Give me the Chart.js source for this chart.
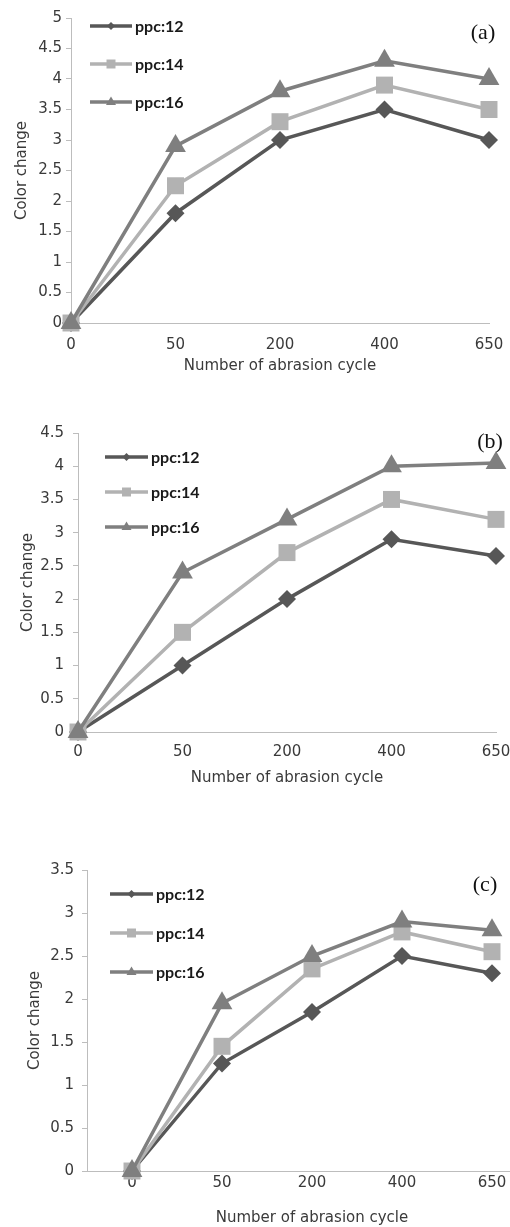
<!DOCTYPE html>
<html>
<head>
<meta charset="utf-8">
<script src="https://cdn.jsdelivr.net/npm/chart.js@4.4.1/dist/chart.umd.min.js"></script>
<style>
  html, body { margin: 0; background: #fff; overflow: hidden; }
  #page { position: relative; width: 510px; height: 1227px; overflow: hidden; }
  .panel { position: absolute; left: 0; width: 510px; }
</style>
</head>
<body>
<div id="page">
<div class="panel" style="top:0;height:380px"><canvas id="chartA"></canvas></div>
<div class="panel" style="top:390px;height:400px"><canvas id="chartB"></canvas></div>
<!-- panel (c) is cut off on the right in the source figure, so its canvas runs past the page edge -->
<div class="panel" style="top:820px;height:407px;width:549px"><canvas id="chartC"></canvas></div>
</div>
<script>
// abrasion cycles on the x axis
const cycles = ['0', '50', '200', '400', '650'];
const seriesNames = ['ppc:12', 'ppc:14', 'ppc:16'];

// (a)
const a_ppc12 = [0, 1.8, 3.0, 3.5, 3.0];
const a_ppc14 = [0, 2.25, 3.3, 3.9, 3.5];
const a_ppc16 = [0, 2.9, 3.8, 4.3, 4.0];
// (b)
const b_ppc12 = [0, 1.0, 2.0, 2.9, 2.65];
const b_ppc14 = [0, 1.5, 2.7, 3.5, 3.2];
const b_ppc16 = [0, 2.4, 3.2, 4.0, 4.05];
// (c)
const c_ppc12 = [0, 1.25, 1.85, 2.5, 2.3];
const c_ppc14 = [0, 1.45, 2.35, 2.78, 2.55];
const c_ppc16 = [0, 1.95, 2.5, 2.9, 2.8];

const yMaxA = 5, yMaxB = 4.5, yMaxC = 3.5;

const colors = ['#575757', '#b2b2b2', '#7f7f7f'];
const styles = ['rectRot', 'rect', 'triangle'];
const radii = [9, 12, 12];

const sans = 'DejaVu Sans';

// legend drawn inside the plot: short line with a small marker, then bold label
const lineLegend = {
    id: 'lineLegend',
    afterDraw(chart, args, opts) {
        const ctx = chart.ctx;
        ctx.save();
        chart.data.datasets.forEach((ds, i) => {
            const y = opts.y + i * opts.dy;
            ctx.strokeStyle = ds.borderColor;
            ctx.lineWidth = 3.5;
            ctx.beginPath();
            ctx.moveTo(opts.x, y);
            ctx.lineTo(opts.x + opts.len, y);
            ctx.stroke();
            const cx = opts.x + opts.len / 2;
            ctx.fillStyle = ds.borderColor;
            ctx.beginPath();
            if (ds.pointStyle === 'rectRot') {
                ctx.moveTo(cx - 4, y); ctx.lineTo(cx, y - 4); ctx.lineTo(cx + 4, y); ctx.lineTo(cx, y + 4);
            } else if (ds.pointStyle === 'rect') {
                ctx.rect(cx - 4.5, y - 4.5, 9, 9);
            } else {
                ctx.moveTo(cx, y - 5.5); ctx.lineTo(cx + 5, y + 3); ctx.lineTo(cx - 5, y + 3);
            }
            ctx.closePath();
            ctx.fill();
            ctx.fillStyle = '#1a1a1a';
            ctx.font = 'bold 16px Lato';
            ctx.textBaseline = 'middle';
            ctx.textAlign = 'left';
            ctx.fillText(ds.label, opts.x + opts.len + 3, y + 1);
        });
        ctx.font = '22px "Liberation Serif"';
        ctx.fillStyle = '#111';
        ctx.textAlign = 'center';
        ctx.textBaseline = 'middle';
        ctx.fillText(opts.tag, opts.tagX, opts.tagY);
        ctx.restore();
    }
};

function makeDatasets(values) {
    return values.map((v, i) => ({
        label: seriesNames[i],
        data: v,
        borderColor: colors[i],
        backgroundColor: colors[i],
        pointBackgroundColor: colors[i],
        pointBorderColor: colors[i],
        pointStyle: styles[i],
        pointRadius: radii[i],
        pointHoverRadius: radii[i],
        pointBorderWidth: 0,
        borderWidth: 3.5,
        tension: 0,
        clip: false,
        order: 2 - i
    }));
}

function makeChart(id, values, cfg) {
    new Chart(document.getElementById(id), {
        type: 'line',
        data: { labels: cycles, datasets: makeDatasets(values) },
        options: {
            responsive: true,
            maintainAspectRatio: false,
            animation: false,
            layout: { padding: { left: 0, top: cfg.top, right: cfg.right, bottom: 0 } },
            plugins: {
                legend: { display: false },
                tooltip: { enabled: false },
                lineLegend: cfg.legend
            },
            scales: {
                x: {
                    offset: cfg.offset,
                    afterFit: s => { s.height = cfg.xHeight; s.paddingLeft = 0; s.paddingRight = 0; },
                    grid: { display: false, drawTicks: false },
                    border: { display: true, color: '#bdbdbd', width: 1 },
                    ticks: { color: '#3a3a3a', padding: cfg.xPad, font: { family: sans, size: 15 } },
                    title: {
                        display: true, text: 'Number of abrasion cycle', color: '#3a3a3a',
                        font: { family: sans, size: 15 }, padding: { top: 0, bottom: cfg.xTitlePad }
                    }
                },
                y: {
                    min: 0, max: cfg.yMax,
                    afterFit: s => { s.width = cfg.yWidth; },
                    grid: { display: true, drawOnChartArea: false, drawTicks: true, tickLength: 5, color: '#bdbdbd' },
                    border: { display: true, color: '#bdbdbd', width: 1 },
                    ticks: {
                        stepSize: 0.5, color: '#3a3a3a', padding: cfg.yPad,
                        font: { family: sans, size: 15 },
                        callback: v => String(v)
                    },
                    title: {
                        display: true, text: 'Color change', color: '#3a3a3a',
                        font: { family: sans, size: 15 }, padding: { top: cfg.yTitlePad, bottom: 0 }
                    }
                }
            }
        },
        plugins: [lineLegend]
    });
}

makeChart('chartA', [a_ppc12, a_ppc14, a_ppc16], {
    top: 18, right: 21, offset: false, xHeight: 57, yWidth: 71, yMax: yMaxA,
    xPad: 13, xTitlePad: 5, yPad: 4, yTitlePad: 13,
    legend: { x: 90, y: 26, dy: 38, len: 42, tag: '(a)', tagX: 483, tagY: 33 }
});

makeChart('chartB', [b_ppc12, b_ppc14, b_ppc16], {
    top: 43, right: 14, offset: false, xHeight: 58, yWidth: 78, yMax: yMaxB,
    xPad: 11, xTitlePad: 3, yPad: 9, yTitlePad: 19,
    legend: { x: 105, y: 67, dy: 35, len: 43, tag: '(b)', tagX: 490, tagY: 52 }
});

makeChart('chartC', [c_ppc12, c_ppc14, c_ppc16], {
    top: 50, right: 0, offset: true, xHeight: 56, yWidth: 87, yMax: yMaxC,
    xPad: 3, xTitlePad: 0, yPad: 8, yTitlePad: 26,
    legend: { x: 110, y: 74, dy: 39, len: 43, tag: '(c)', tagX: 485, tagY: 65 }
});
</script>
</body>
</html>
